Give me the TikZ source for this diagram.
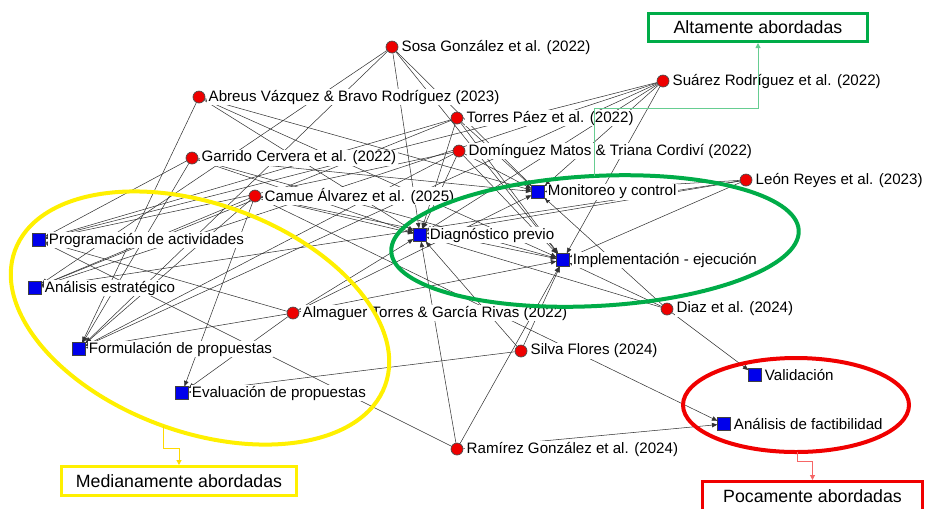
\documentclass[tikz,border=0pt]{standalone}
\usepackage{fontspec}
\setmainfont{Liberation Sans}
\usetikzlibrary{arrows.meta}
\pgfdeclarelayer{links}
\pgfsetlayers{links,main}

\definecolor{hiGreen}{RGB}{0,172,72}
\definecolor{midYellow}{RGB}{255,240,0}
\definecolor{lowRed}{RGB}{240,0,0}
\definecolor{dotRed}{RGB}{238,0,0}
\definecolor{boxBlue}{RGB}{0,0,235}
\newcommand{\netfont}{\fontsize{8.6}{10}\selectfont}
\newcommand{\tagfont}{\fontsize{10.1}{12}\selectfont}

\begin{document}
\begin{tikzpicture}[x=0.2mm,y=-0.2mm,
  author/.style={circle,fill=dotRed,draw=black!70,line width=0.4pt,minimum size=2.4mm,inner sep=0pt},
  phase/.style={rectangle,fill=boxBlue,draw=black!75,line width=0.4pt,minimum size=2.5mm,inner sep=0pt},
  every label/.style={fill=white,inner sep=0.25mm,font=\netfont},
  label distance=0.35mm,
  link/.style={draw=black!80,line width=0.3pt,-{Triangle[length=1.1mm,width=0.9mm]}},
  group/.style={line width=0.8mm},
  tag/.style={draw,line width=0.6mm,minimum width=43.8mm,minimum height=5.6mm,inner sep=0pt,font=\tagfont},
  feed/.style={line width=0.2mm,-{Triangle[length=1mm,width=1mm]}}]
\useasboundingbox (0,0) rectangle (925,508);

% authors
\node[author,label={right:Sosa González et al. (2022)}] (sosa) at (392,47) {};
\node[author,label={right:Abreus Vázquez \& Bravo Rodríguez (2023)}] (abreus) at (199,97) {};
\node[author,label={right:Torres Páez et al. (2022)}] (torres) at (457,118) {};
\node[author,label={right:Garrido Cervera et al. (2022)}] (garrido) at (192,158) {};
\node[author,label={right:Domínguez Matos \& Triana Cordiví (2022)}] (doming) at (459,151) {};
\node[author,label={right:Suárez Rodríguez et al. (2022)}] (suarez) at (663,81) {};
\node[author,label={right:León Reyes et al. (2023)}] (leon) at (746,180) {};
\node[author,label={right:Camue Álvarez et al. (2025)}] (camue) at (255,196) {};
\node[author,label={right:Almaguer Torres \& García Rivas (2022)}] (almaguer) at (293,313) {};
\node[author,label={right:Diaz et al. (2024)}] (diaz) at (667,309) {};
\node[author,label={right:Silva Flores (2024)}] (silva) at (521,351) {};
\node[author,label={right:Ramírez González et al. (2024)}] (ramirez) at (457,449) {};

% phases
\node[phase,label={right:Programación de actividades}] (prog) at (39,240) {};
\node[phase,label={right:Análisis estratégico}] (anest) at (35,288) {};
\node[phase,label={right:Formulación de propuestas}] (form) at (79,349) {};
\node[phase,label={right:Evaluación de propuestas}] (evalp) at (182,393) {};
\node[phase,label={right:Diagnóstico previo}] (diag) at (420,235) {};
\node[phase,label={right:Monitoreo y control}] (moni) at (538,192) {};
\node[phase,label={right:Implementación - ejecución}] (impl) at (563,260) {};
\node[phase,label={right:Validación}] (vali) at (755,375) {};
\node[phase,label={right:Análisis de factibilidad}] (fact) at (724,424) {};

\begin{pgfonlayer}{links}
\foreach \a/\p in {sosa/anest,sosa/form,sosa/diag,sosa/moni,sosa/impl,
    abreus/form,abreus/diag,abreus/moni,abreus/impl,
    garrido/prog,garrido/form,garrido/diag,garrido/moni,garrido/impl,
    camue/anest,camue/form,camue/evalp,camue/diag,camue/impl,camue/fact,
    torres/prog,torres/anest,torres/diag,torres/moni,torres/impl,
    doming/prog,doming/form,doming/diag,doming/moni,doming/impl,
    suarez/prog,suarez/anest,suarez/form,suarez/diag,suarez/moni,suarez/impl,
    leon/anest,leon/diag,leon/moni,leon/impl,
    almaguer/prog,almaguer/form,almaguer/evalp,almaguer/diag,almaguer/moni,almaguer/impl,
    diaz/diag,diaz/moni,diaz/impl,diaz/vali,
    silva/evalp,silva/diag,silva/impl,
    ramirez/prog,ramirez/diag,ramirez/impl,ramirez/fact}
  \draw[link] (\a) -- (\p);
\end{pgfonlayer}

% groups
\draw[group,midYellow,rotate around={-20:(200,318)}] (200,318) ellipse [x radius=197,y radius=114];
\draw[group,hiGreen,rotate around={3:(595,241)}] (595,241) ellipse [x radius=204,y radius=65];
\draw[group,lowRed] (796,405) ellipse [x radius=113,y radius=47];

\node[tag,draw=hiGreen] (alta) at (758,27.5) {Altamente abordadas};
\node[tag,draw=midYellow,minimum width=47mm,minimum height=5.8mm] (media) at (179,481) {Medianamente abordadas};
\node[tag,draw=lowRed,minimum width=44mm,minimum height=5.8mm] (poca) at (812.5,496) {Pocamente abordadas};

\coordinate (gtop) at (594,176);
\coordinate (ybot) at (163,426);
\coordinate (rbot) at (797,452);
\draw[feed,hiGreen!60] (gtop) -- ++(0,-68) -| (alta.south);
\draw[feed,midYellow!80!orange] (ybot) -- ++(0,22) -| (media.north);
\draw[feed,lowRed!60] (rbot) -- ++(0,9) -| (poca.north);
\end{tikzpicture}
\end{document}
